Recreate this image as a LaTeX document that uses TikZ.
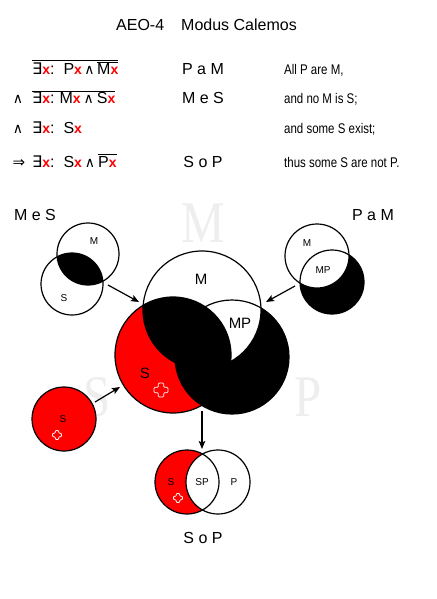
\documentclass[tikz,border=0pt]{standalone}
\usepackage{fontspec}
\setmainfont{Liberation Sans}
\newfontfamily\symf{DejaVu Sans}
\newfontfamily\narrowf[FakeStretch=0.82]{Liberation Sans}
\newfontfamily\wmf{Liberation Serif}
\usetikzlibrary{arrows.meta}
\definecolor{xred}{RGB}{255,0,0}
\definecolor{wmgray}{RGB}{238,238,238}
\newcommand\rx{{\fontsize{14}{16}\selectfont\textcolor{xred}{\bfseries x}}}
\newcommand\ovl[1]{$\overline{\hbox{#1}}$}
\newcommand\sy[1]{{\symf #1}}
\newcommand\sya[1]{{\symf\fontsize{14}{16}\selectfont #1}}
\tikzset{
  xcross/.pic={\draw[white, line width=0.8pt, rounded corners=1pt]
    (-0.38,-1) -- (0.38,-1) -- (0.38,-0.38) -- (1,-0.38) -- (1,0.38) -- (0.38,0.38)
    -- (0.38,1) -- (-0.38,1) -- (-0.38,0.38) -- (-1,0.38) -- (-1,-0.38) -- (-0.38,-0.38) -- cycle;},
  big/.style={inner sep=0pt, font=\fontsize{16}{19}\selectfont},
  desc/.style={inner sep=0pt, anchor=base west, font=\narrowf\fontsize{14}{17}\selectfont},
  fml/.style={inner sep=0pt, anchor=base west, font=\fontsize{16}{19}\selectfont},
  lblbig/.style={inner sep=0pt, font=\fontsize{15}{18}\selectfont},
  lblsmall/.style={inner sep=0pt, font=\fontsize{10}{12}\selectfont},
  wmk/.style={inner sep=0pt, text=wmgray, font=\wmf\fontsize{59}{59}\selectfont},
  ring/.style={draw=black, line width=1.2pt},
  arr/.style={draw=black, line width=1.2pt, -{Stealth[length=8pt,width=6.5pt,inset=1.5pt]}}
}
\begin{document}
\begin{tikzpicture}[x=1pt,y=-1pt]
\useasboundingbox (0,0) rectangle (436,599);
\fill[white] (0,0) rectangle (436,599);

% watermarks
\node[wmk] (wmM) at (203,223) {\scalebox{0.83}[1]{M}};
\node[wmk] (wmS) at (97,397) {\scalebox{0.83}[1]{S}};
\node[wmk] (wmP) at (308,397) {\scalebox{0.83}[1]{P}};

% title
\node[big, anchor=base] (title) at (206.5,31) {AEO-4\hspace{17pt}Modus Calemos};

% formulas
\node[fml] (f1) at (32,75) {\ovl{\sy{∃}\rx:\hspace{9pt}P\rx\hspace{2.5pt}\sya{∧}\hspace{2.5pt}\ovl{M\rx}}};
\node[fml] (f2) at (32,104) {\ovl{\sy{∃}\rx:\hspace{5pt}M\rx\hspace{3pt}\sya{∧}\hspace{3pt}S\rx}};
\node[fml] (f3) at (32,133) {\sy{∃}\rx:\hspace{9pt}S\rx};
\node[fml] (f4) at (32,167) {\sy{∃}\rx:\hspace{9pt}S\rx\hspace{3pt}\sya{∧}\hspace{3pt}\ovl{P\rx}};
\node[inner sep=0pt, anchor=base] (p2) at (18,104) {\sya{∧}};
\node[inner sep=0pt, anchor=base] (p3) at (18,133) {\sya{∧}};
\node[inner sep=0pt, anchor=base, font=\fontsize{15}{18}\selectfont] (p4) at (19,167) {\sy{⇒}};

\node[big, anchor=base] (m1) at (203,75) {P a M};
\node[big, anchor=base] (m2) at (203,104) {M e S};
\node[big, anchor=base] (m4) at (203,167) {S o P};

\node[desc] (d1) at (284,75) {All P are M,};
\node[desc] (d2) at (284,104) {and no M is S;};
\node[desc] (d3) at (284,133) {and some S exist;};
\node[desc] (d4) at (284,167) {thus some S are not P.};

% ---------- big diagram ----------
\coordinate (cM) at (202,310);
\coordinate (cS) at (173,355);
\coordinate (cP) at (232,357);
\fill[xred] (cS) circle[radius=58];
\fill[black] (cP) circle[radius=57];
\begin{scope}
  \clip (cP) circle[radius=57];
  \fill[white] (cM) circle[radius=59];
\end{scope}
\begin{scope}
  \clip (cM) circle[radius=59];
  \fill[black] (cS) circle[radius=58];
\end{scope}
\draw[ring] (cM) circle[radius=59];
\draw[ring] (cS) circle[radius=58];
\draw[ring] (cP) circle[radius=57];
\node[lblbig] (bM) at (201,279) {M};
\node[lblbig] (bMP) at (240,323) {MP};
\node[lblbig] (bS) at (145,373) {S};
\pic[scale=7] at (161,390) {xcross};

% ---------- MeS ----------
\node[big] (lMeS) at (35,215) {M e S};
\coordinate (mM) at (88,254);
\coordinate (mS) at (72,284);
\begin{scope}
  \clip (mM) circle[radius=31];
  \fill[black] (mS) circle[radius=31];
\end{scope}
\draw[ring] (mM) circle[radius=31];
\draw[ring] (mS) circle[radius=31];
\node[lblsmall] (mlM) at (94,241) {M};
\node[lblsmall] (mlS) at (64,298) {S};

% ---------- PaM ----------
\node[big] (lPaM) at (373,215) {P a M};
\coordinate (pM) at (317,256);
\coordinate (pP) at (332,282);
\fill[black] (pP) circle[radius=32];
\fill[white] (pM) circle[radius=32];
\draw[ring] (pM) circle[radius=32];
\draw[ring] (pP) circle[radius=32];
\node[lblsmall] (plM) at (307,243) {M};
\node[lblsmall] (plMP) at (323,270) {MP};

% ---------- S ----------
\coordinate (sC) at (64,419);
\fill[xred] (sC) circle[radius=32];
\draw[ring] (sC) circle[radius=32];
\node[lblsmall] (slS) at (63,419) {S};
\pic[scale=4.5] at (57,435) {xcross};

% ---------- SoP ----------
\coordinate (oS) at (187,482);
\coordinate (oP) at (218,482);
\fill[xred] (oS) circle[radius=32];
\fill[white] (oP) circle[radius=32];
\draw[ring] (oS) circle[radius=32];
\draw[ring] (oP) circle[radius=32];
\node[lblsmall] (olS) at (171,482) {S};
\node[lblsmall] (olSP) at (202,482) {SP};
\node[lblsmall] (olP) at (234,482) {P};
\pic[scale=4.5] at (178,498) {xcross};
\node[big] (lSoP) at (203,538) {S o P};

% ---------- arrows ----------
\coordinate (mesA) at (108,285); \coordinate (mesB) at (139,302);
\coordinate (pamA) at (295,286); \coordinate (pamB) at (266,302);
\coordinate (sA) at (95,402);    \coordinate (sB) at (120,387);
\coordinate (dA) at (202,411);   \coordinate (dB) at (202,449);
\draw[arr] (mesA) -- (mesB);
\draw[arr] (pamA) -- (pamB);
\draw[arr] (sA) -- (sB);
\draw[arr] (dA) -- (dB);
\end{tikzpicture}
\end{document}
